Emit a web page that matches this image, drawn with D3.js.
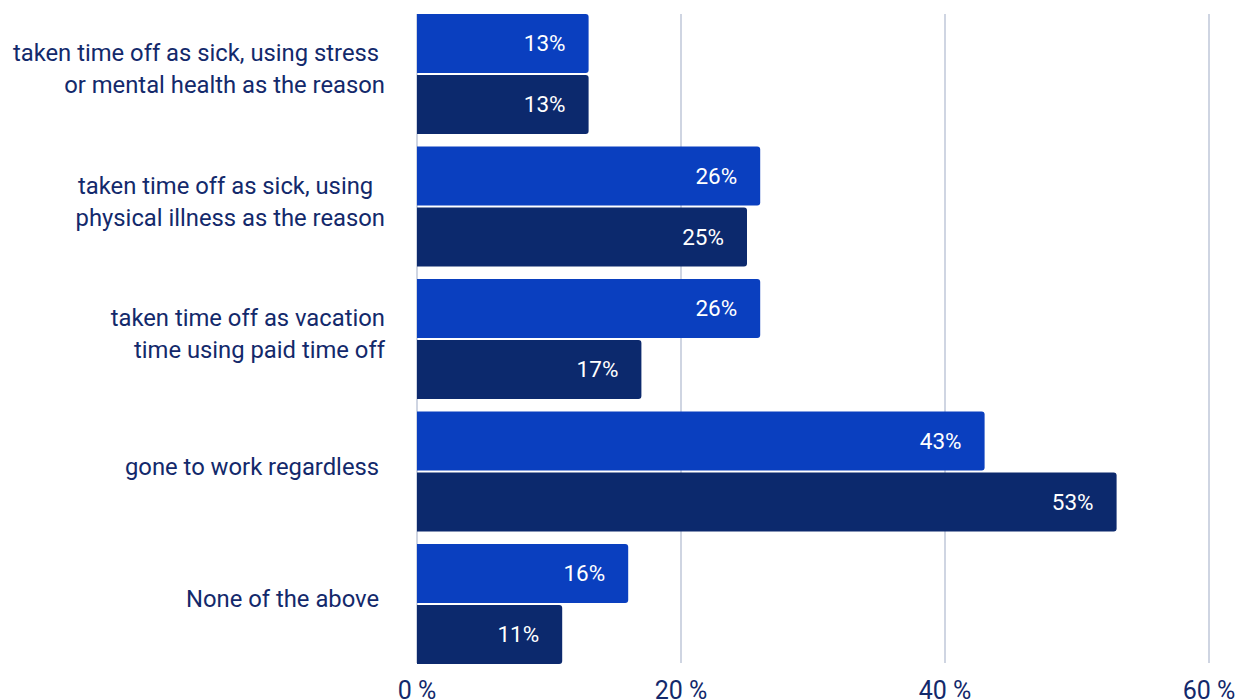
<!DOCTYPE html>
<html>
<head>
<meta charset="utf-8">
<script src="https://cdn.jsdelivr.net/npm/d3@7"></script>
<style>
  html, body { margin: 0; padding: 0; background: #fff; }
  svg { display: block; font-family: Roboto, "Noto Sans", sans-serif; }
  .cat { white-space: pre; }
</style>
</head>
<body>
<svg id="chart" width="1246" height="699"></svg>
<script>
// Survey answers: what respondents did when feeling unwell
const categories = [
  ["taken time off as sick, using stress ", "or mental health as the reason"],
  ["taken time off as sick, using  ", "physical illness as the reason"],
  ["taken time off as vacation", "time using paid time off"],
  ["gone to work regardless "],
  ["None of the above "]
];
const seriesA = [13, 26, 26, 43, 16];
const seriesB = [13, 25, 17, 53, 11];
const seriesNames = ["A", "B"];
const tickValues = [0, 20, 40, 60];
const tickLabels = ["0 %", "20 %", "40 %", "60 %"];

const colors = { A: "#0a3fbf", B: "#0c296d" };
const textColor = "#13296b";
const gridColor = "#cfd5e2";

const svg = d3.select("#chart");
const plotLeft = 417, plotRight = 1209, plotTop = 14, plotBottom = 664;

const x = d3.scaleLinear().domain([0, 60]).range([plotLeft, plotRight]);
const y = d3.scaleBand().domain(d3.range(categories.length))
  .range([plotTop, plotBottom]).paddingInner(0.0943).paddingOuter(0);
const inner = d3.scaleBand().domain(seriesNames)
  .range([0, y.bandwidth()]).paddingInner(0.034);

// vertical grid lines
svg.append("g").selectAll("line")
  .data(tickValues)
  .join("line")
  .attr("x1", d => x(d)).attr("x2", d => x(d))
  .attr("y1", plotTop).attr("y2", plotBottom - 1)
  .attr("stroke", gridColor)
  .attr("stroke-width", 2);

// tick labels along the bottom
svg.append("g").selectAll("text")
  .data(tickValues)
  .join("text")
  .attr("x", d => x(d))
  .attr("y", 699)
  .attr("text-anchor", "middle")
  .attr("fill", textColor)
  .attr("font-size", 25)
  .text((d, i) => tickLabels[i]);

// bar with rounded right end
function barPath(x0, x1, y0, h, r) {
  r = Math.min(r, (x1 - x0) / 2, h / 2);
  return `M${x0},${y0}H${x1 - r}Q${x1},${y0} ${x1},${y0 + r}` +
         `V${y0 + h - r}Q${x1},${y0 + h} ${x1 - r},${y0 + h}H${x0}Z`;
}

const rows = [];
categories.forEach((c, i) => {
  rows.push({ cat: i, s: "A", v: seriesA[i] });
  rows.push({ cat: i, s: "B", v: seriesB[i] });
});

const bars = svg.append("g");
bars.selectAll("path")
  .data(rows)
  .join("path")
  .attr("d", d => barPath(x(0), x(d.v), y(d.cat) + inner(d.s), inner.bandwidth(), 3))
  .attr("fill", d => colors[d.s]);

bars.selectAll("text")
  .data(rows)
  .join("text")
  .attr("x", d => x(d.v) - 23)
  .attr("y", d => y(d.cat) + inner(d.s) + inner.bandwidth() / 2)
  .attr("dy", "0.35em")
  .attr("text-anchor", "end")
  .attr("fill", "#fff")
  .attr("font-size", 22.5)
  .text(d => d.v + "%");

// category labels on the left
const lineH = 32;
const labels = svg.append("g").selectAll("text")
  .data(categories)
  .join("text")
  .attr("class", "cat")
  .attr("text-anchor", "end")
  .attr("fill", textColor)
  .attr("font-size", 23.8);
labels.each(function(lines, i) {
  const cy = y(i) + y.bandwidth() / 2 - 5;
  const y0 = cy - (lines.length - 1) * lineH / 2;
  d3.select(this).selectAll("tspan")
    .data(lines)
    .join("tspan")
    .attr("x", 385)
    .attr("y", (d, j) => y0 + j * lineH)
    .attr("dy", "0.35em")
    .text(d => d);
});
</script>
</body>
</html>
